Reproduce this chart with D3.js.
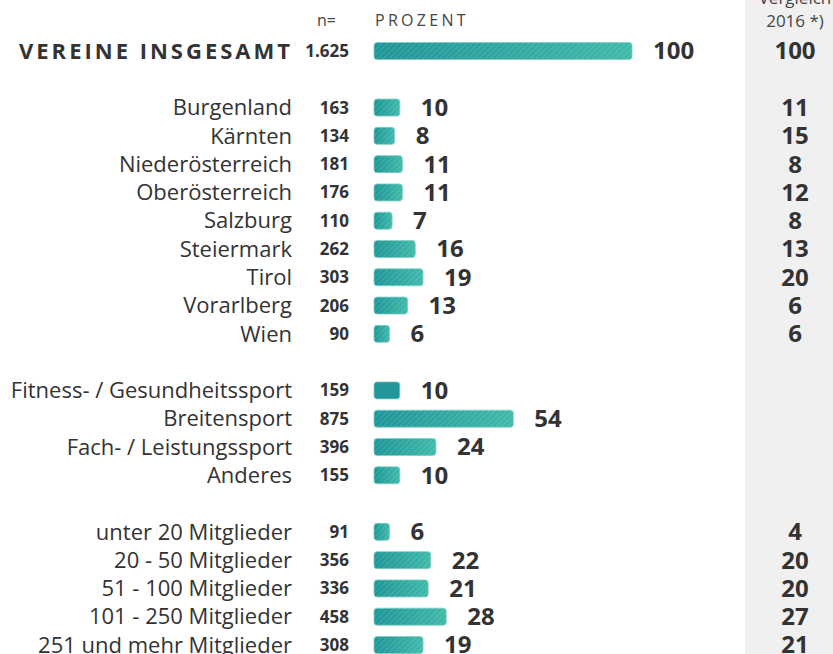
<!DOCTYPE html>
<html><head><meta charset="utf-8">
<script src="https://cdn.jsdelivr.net/npm/d3@7"></script>
<style>body{margin:0;background:#fff}svg{display:block;font-family:"Open Sans","Noto Sans",sans-serif}</style>
</head><body>
<script>
const categories = ["VEREINE INSGESAMT","Burgenland","Kärnten","Niederösterreich","Oberösterreich","Salzburg","Steiermark","Tirol","Vorarlberg","Wien","Fitness- / Gesundheitssport","Breitensport","Fach- / Leistungssport","Anderes","unter 20 Mitglieder","20 - 50 Mitglieder","51 - 100 Mitglieder","101 - 250 Mitglieder","251 und mehr Mitglieder"];
const slots = [0,2,3,4,5,6,7,8,9,10,12,13,14,15,17,18,19,20,21];
const nValues = ["1.625","163","134","181","176","110","262","303","206","90","159","875","396","155","91","356","336","458","308"];
const percent = [100,10,8,11,11,7,16,19,13,6,10,54,24,10,6,22,21,28,19];
const compare2016 = [100,11,15,8,12,8,13,20,6,6,null,null,null,null,4,20,20,27,21];
const solidBars = [false,false,false,false,false,false,false,false,false,false,true,false,false,false,false,false,false,false,false];

const W=833,H=654;
const svg=d3.select("body").append("svg").attr("width",W).attr("height",H);
const defs=svg.append("defs");
const grad=defs.append("linearGradient").attr("id","g").attr("x1","0").attr("x2","1").attr("y1","0").attr("y2","0");
grad.append("stop").attr("offset","0").attr("stop-color","#1f9698");
grad.append("stop").attr("offset","1").attr("stop-color","#3fbaa9");
const pat=defs.append("pattern").attr("id","h").attr("patternUnits","userSpaceOnUse").attr("width",4).attr("height",4).attr("patternTransform","rotate(45)");
pat.append("line").attr("x1",0).attr("y1",0).attr("x2",0).attr("y2",4).attr("stroke","#ffffff").attr("stroke-opacity",0.25).attr("stroke-width",1);

const x=d3.scaleLinear().domain([0,100]).range([374,632]);
const y=d3.scaleLinear().domain([0,21]).range([51,645]);
const barH=17;

// comparison column background
svg.append("rect").attr("x",745).attr("y",0).attr("width",W-745).attr("height",H).attr("fill","#f0f0f0");
svg.append("text").attr("x",795).attr("y",4).attr("text-anchor","middle").attr("font-size",17).attr("fill","#444").text("Vergleich");
svg.append("text").attr("x",795).attr("y",27).attr("text-anchor","middle").attr("font-size",17).attr("fill","#444").text("2016 *)");

svg.append("text").attr("x",336).attr("y",26).attr("text-anchor","end").attr("font-size",16).attr("fill","#444").text("n=");
svg.append("text").attr("x",375).attr("y",26).attr("font-size",16).attr("letter-spacing","3.3px").attr("fill","#444").text("PROZENT");

const rows=svg.selectAll("g.row").data(categories.map((c,i)=>({c,i}))).join("g").attr("class","row")
  .attr("transform",d=>`translate(0,${y(slots[d.i])})`);

rows.append("text").attr("x",d=>d.i===0?293:292).attr("dy","0.35em").attr("text-anchor","end")
  .attr("font-size",22).attr("font-weight",d=>d.i===0?700:400)
  .attr("letter-spacing",d=>d.i===0?"3px":"0px").attr("fill","#333").text(d=>d.c);
rows.append("text").attr("x",349).attr("dy","0.35em").attr("text-anchor","end").attr("font-size",17).attr("font-weight",700).attr("fill","#333").text(d=>nValues[d.i]);
rows.append("rect").attr("x",x(0)).attr("y",-barH/2).attr("width",d=>x(percent[d.i])-x(0)).attr("height",barH).attr("rx",3)
  .attr("fill",d=>solidBars[d.i]?"#22969a":"url(#g)").attr("stroke","#7fcdc5").attr("stroke-width",0.8);
rows.filter(d=>!solidBars[d.i]).append("rect").attr("x",x(0)).attr("y",-barH/2).attr("width",d=>x(percent[d.i])-x(0)).attr("height",barH).attr("rx",3)
  .attr("fill","url(#h)");
rows.append("text").attr("x",d=>x(percent[d.i])+21).attr("dy","0.35em").attr("font-size",24).attr("font-weight",700).attr("fill","#333").text(d=>percent[d.i]);
rows.filter(d=>compare2016[d.i]!==null).append("text").attr("x",795).attr("dy","0.35em").attr("text-anchor","middle").attr("font-size",24).attr("font-weight",700).attr("fill","#333").text(d=>compare2016[d.i]);
</script>
</body></html>
